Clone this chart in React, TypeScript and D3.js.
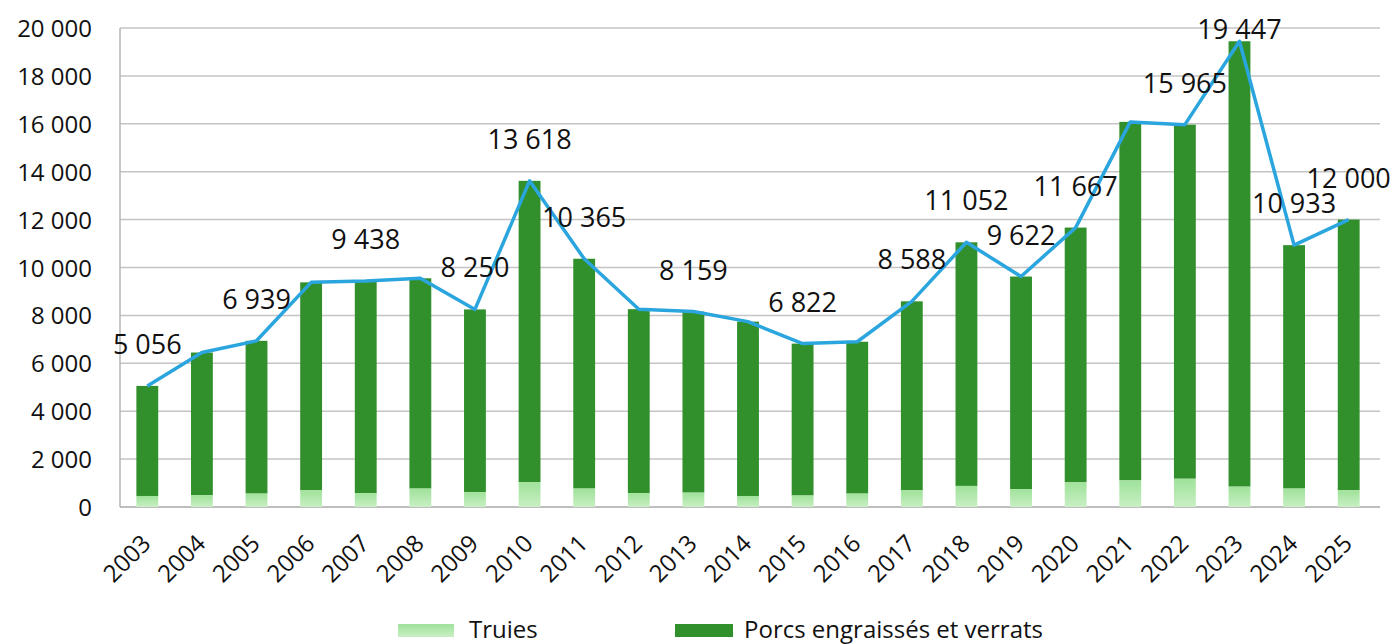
import React from "react";
import * as d3 from "d3";

// années et effectifs
const years = [
  "2003", "2004", "2005", "2006", "2007", "2008", "2009", "2010", "2011", "2012", "2013", "2014",
  "2015", "2016", "2017", "2018", "2019", "2020", "2021", "2022", "2023", "2024", "2025",
];
const totals = [
  5056, 6450, 6939, 9380, 9438, 9550, 8250, 13618, 10365, 8260, 8159, 7740,
  6822, 6900, 8588, 11052, 9622, 11667, 16080, 15965, 19447, 10933, 12000,
];
const truies = [
  460, 490, 560, 700, 580, 770, 620, 1040, 770, 580, 600, 460,
  480, 560, 700, 880, 740, 1030, 1110, 1180, 850, 770, 700,
];
const labelledYears = [
  "2003", "2005", "2007", "2009", "2010", "2011", "2013", "2015", "2017",
  "2018", "2019", "2020", "2022", "2023", "2024", "2025",
];
const yTicks = [0, 2000, 4000, 6000, 8000, 10000, 12000, 14000, 16000, 18000, 20000];

const W = 1397;
const H = 644;
const margin = { top: 28, right: 21, bottom: 137, left: 120 };
const font = "'Open Sans', sans-serif";
const darkGreen = "#31902b";
const lineBlue = "#2aa5de";

const fmt = (v: number) => d3.format(",")(v).replace(/,/g, " ");

export default function App() {
  const x = d3
    .scaleBand<string>()
    .domain(years)
    .range([margin.left, W - margin.right])
    .paddingInner(0.6)
    .paddingOuter(0.3);
  const y = d3.scaleLinear().domain([0, 20000]).range([H - margin.bottom, margin.top]);
  const cx = (yr: string) => (x(yr) as number) + x.bandwidth() / 2;

  const rows = years.map((yr, i) => ({ yr, total: totals[i], truies: truies[i] }));
  const line = d3
    .line<{ yr: string; total: number }>()
    .x((d) => cx(d.yr))
    .y((d) => y(d.total));

  return (
    <svg width={W} height={H} style={{ position: "absolute", left: 0, top: 0, background: "#fff" }}>
      <defs>
        <linearGradient id="truiesGrad" x1="0" y1="0" x2="0" y2="1">
          <stop offset="0%" stopColor="#9fe29a" />
          <stop offset="100%" stopColor="#c9efc4" />
        </linearGradient>
      </defs>

      {/* grille */}
      {yTicks.map((t) => (
        <g key={t}>
          {t > 0 && (
            <line x1={margin.left} x2={W - margin.right + 4} y1={y(t)} y2={y(t)} stroke="#c4c4c4" strokeWidth={1.5} />
          )}
          <text x={92} y={y(t) + 9} textAnchor="end" fontFamily={font} fontSize={24} fill="#111">
            {fmt(t)}
          </text>
        </g>
      ))}
      <line x1={margin.left} x2={margin.left} y1={y(20000)} y2={y(0)} stroke="#b5b5b5" strokeWidth={1.5} />
      <line x1={margin.left} x2={W - margin.right + 4} y1={y(0)} y2={y(0)} stroke="#a8a8a8" strokeWidth={1.5} />

      {/* barres empilées */}
      {rows.map((d) => (
        <g key={d.yr}>
          <rect
            x={x(d.yr)}
            y={y(d.total)}
            width={x.bandwidth()}
            height={y(d.truies) - y(d.total)}
            fill={darkGreen}
          />
          <rect
            x={x(d.yr)}
            y={y(d.truies)}
            width={x.bandwidth()}
            height={y(0) - y(d.truies)}
            fill="url(#truiesGrad)"
          />
        </g>
      ))}

      {/* courbe du total */}
      <path d={line(rows) || ""} fill="none" stroke={lineBlue} strokeWidth={3.5} strokeLinejoin="round" />

      {/* étiquettes de valeurs */}
      {rows
        .filter((d) => labelledYears.includes(d.yr))
        .map((d) => (
          <text
            key={d.yr}
            x={cx(d.yr)}
            y={Math.max(y(d.total) - 32, 39)}
            textAnchor="middle"
            fontFamily={font}
            fontSize={27}
            fill="#111"
          >
            {fmt(d.total)}
          </text>
        ))}

      {/* axe des années */}
      {years.map((yr) => (
        <text
          key={yr}
          transform={`translate(${cx(yr) + 5},${y(0) + 38}) rotate(-45)`}
          textAnchor="end"
          fontFamily={font}
          fontSize={24}
          fill="#111"
        >
          {yr}
        </text>
      ))}

      {/* légende */}
      <rect x={398} y={624} width={56} height={13} fill="url(#truiesGrad)" />
      <text x={469} y={638} fontFamily={font} fontSize={24} fill="#111">
        Truies
      </text>
      <rect x={675} y={624} width={58} height={13} fill={darkGreen} />
      <text x={744} y={638} fontFamily={font} fontSize={24} fill="#111">
        Porcs engraissés et verrats
      </text>
    </svg>
  );
}
